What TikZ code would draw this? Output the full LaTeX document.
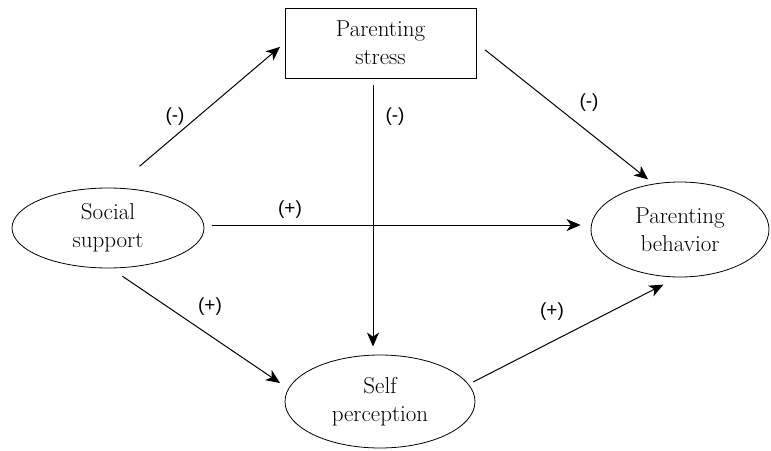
\documentclass[tikz,border=0pt]{standalone}
\usepackage{fontspec}
\newfontfamily\labelfont{Liberation Sans}
\usetikzlibrary{shapes.geometric,arrows.meta}
\begin{document}
\begin{tikzpicture}[x=1pt,y=-1pt,
  every node/.style={font=\fontsize{23}{28}\selectfont, align=center},
  oval/.style={ellipse, draw, line width=0.8pt, inner sep=0pt},
  boxnode/.style={rectangle, draw, line width=0.8pt, inner sep=0pt, minimum width=191pt, minimum height=70pt},
  conn/.style={line width=1pt, -{Stealth[length=14pt,width=12pt,inset=4pt]}},
  sign/.style={font=\labelfont\fontsize{19}{21}\selectfont, inner sep=0pt}
]
\useasboundingbox (0,0) rectangle (771,450);
\node[boxnode] (stress) at (380.5,43) {Parenting\\stress};
\node[oval, minimum width=192pt, minimum height=80pt] (social) at (108,228) {Social\\support};
\node[oval, minimum width=178pt, minimum height=95pt] (behavior) at (680,229.5) {Parenting\\behavior};
\node[oval, minimum width=190pt, minimum height=93pt] (self) at (380,401.5) {Self\\perception};

\draw[conn, shorten <=33pt, shorten >=6pt] (social.81) -- (stress.west);
\draw[conn, shorten <=7pt, shorten >=8pt] ([xshift=-7.5pt]stress.south) -- ([xshift=-7pt]self.north);
\draw[conn, shorten <=11pt, shorten >=7pt] (stress.east) -- (behavior.120);
\draw[conn, shorten <=8pt, shorten >=10pt] ([yshift=3pt]social.east) -- ([yshift=4.5pt]behavior.west);
\draw[conn, shorten <=14pt, shorten >=10pt] (social.-86) -- (self.172);
\draw[conn, shorten <=5pt, shorten >=16pt] (self.11) -- (behavior.-93);

\node[sign] (l1) at (175,117) {(-)};
\node[sign] (l2) at (395,117) {(-)};
\node[sign] (l3) at (589,103) {(-)};
\node[sign] (l4) at (290,210) {(+)};
\node[sign] (l5) at (210,307) {(+)};
\node[sign] (l6) at (552,312) {(+)};
\end{tikzpicture}
\end{document}
